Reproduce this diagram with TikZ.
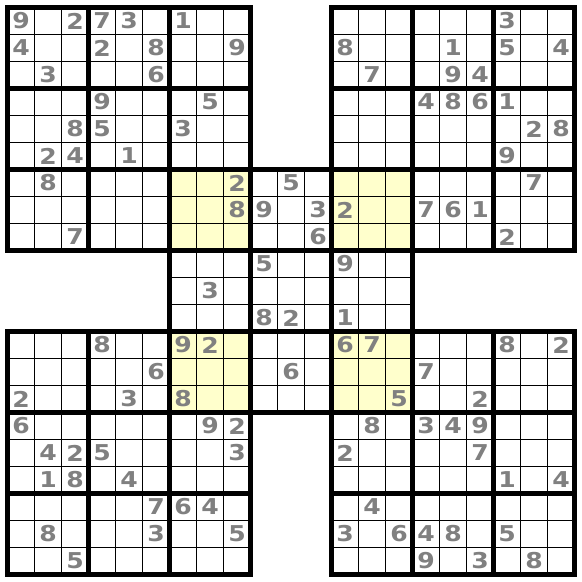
\documentclass[tikz,border=0pt]{standalone}
\usepackage{fontspec}
\newfontfamily\digitfont{DejaVu Sans Bold}
\definecolor{overlap}{RGB}{255,255,204}
\definecolor{given}{RGB}{128,128,128}
\tikzset{
  thingrid/.style={line width=1.05pt,black},
  thickgrid/.style={line width=4.4pt,black,line cap=rect},
  digit/.style={inner sep=0pt,text=given,font=\digitfont\fontsize{23}{23}\selectfont,xscale=1.15},
}
\begin{document}
\begin{tikzpicture}
\useasboundingbox[fill=white] (-0.2778,0.2778) rectangle (21.2778,-21.2778);
% overlap regions
\foreach \r/\c in {6/6,6/12,12/6,12/12}
  \fill[overlap] (\c,-\r) rectangle ++(3,-3);
% thin lines
\foreach \r/\c in {0/0,0/12,6/6,12/0,12/12}
  \draw[thingrid] (\c,-\r) grid ++(9,-9);
% thick lines
\foreach \r/\c in {0/0,0/12,6/6,12/0,12/12}
  \draw[thickgrid] (\c,-\r) grid[step=3] ++(9,-9);
% given digits
\foreach \r/\c/\d in {
  0/0/9,0/2/2,0/3/7,0/4/3,0/6/1,
  1/0/4,1/3/2,1/5/8,1/8/9,
  2/1/3,2/5/6,
  3/3/9,3/7/5,
  4/2/8,4/3/5,4/6/3,
  5/1/2,5/2/4,5/4/1,
  6/1/8,6/8/2,
  7/8/8,
  8/2/7,
  0/18/3,
  1/12/8,1/16/1,1/18/5,1/20/4,
  2/13/7,2/16/9,2/17/4,
  3/15/4,3/16/8,3/17/6,3/18/1,
  4/19/2,4/20/8,
  5/18/9,
  6/19/7,
  7/12/2,7/15/7,7/16/6,7/17/1,
  8/18/2,
  6/10/5,
  7/9/9,7/11/3,
  8/11/6,
  9/9/5,9/12/9,
  10/7/3,
  11/9/8,11/10/2,11/12/1,
  13/10/6,
  12/3/8,12/6/9,12/7/2,
  13/5/6,
  14/0/2,14/4/3,14/6/8,
  15/0/6,15/7/9,15/8/2,
  16/1/4,16/2/2,16/3/5,16/8/3,
  17/1/1,17/2/8,17/4/4,
  18/5/7,18/6/6,18/7/4,
  19/1/8,19/5/3,19/8/5,
  20/2/5,
  12/12/6,12/13/7,12/18/8,12/20/2,
  13/15/7,
  14/14/5,14/17/2,
  15/13/8,15/15/3,15/16/4,15/17/9,
  16/12/2,16/17/7,
  17/18/1,17/20/4,
  18/13/4,
  19/12/3,19/14/6,19/15/4,19/16/8,19/18/5,
  20/15/9,20/17/3,20/19/8}
  \node[digit] (n\r-\c) at (\c+0.5,-\r-0.5) {\d};
\end{tikzpicture}
\end{document}
